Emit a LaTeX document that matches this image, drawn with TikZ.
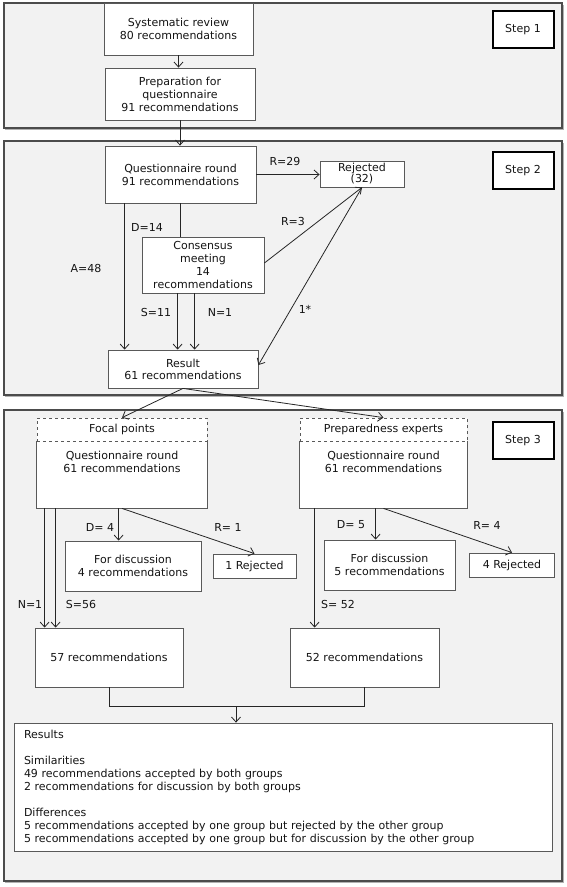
\documentclass[tikz,border=0pt]{standalone}
\usepackage{fontspec}
\setmainfont{DejaVu Sans}
\usetikzlibrary{arrows.meta}
\begin{document}
\begin{tikzpicture}[x=1pt,y=-1pt,
  font=\fontsize{11}{13}\selectfont,
  panel/.style={draw=black!70, line width=1.3pt, fill=black!5},
  shadow/.style={fill=black!30},
  box/.style={draw=black!65, line width=0.8pt, fill=white, align=center, inner sep=0pt, text=black!92},
  boxline/.style={draw=black!65, line width=0.8pt},
  stepbox/.style={draw=black, line width=2pt, fill=white, minimum width=61, minimum height=37, inner sep=0pt, text=black!92},
  conn/.style={draw=black!85, line width=0.8pt},
  arr/.style={conn, -{Straight Barb[length=5pt,width=9pt]}},
  lbl/.style={inner sep=0pt, text=black!92},
]
\useasboundingbox (0,0) rectangle (567,887);
% panels
\path[shadow] (5,4.5) rectangle (563.5,129.5);
\path[panel] (4,3) rectangle (562,128);
\path[shadow] (5,142.5) rectangle (563.5,396.5);
\path[panel] (4,141) rectangle (562,395);
\path[shadow] (5,411.5) rectangle (563.5,882.5);
\path[panel] (4,410) rectangle (562,881);

% step 1
\node[box, minimum width=149, minimum height=52] (sys) at (178.5,29) {Systematic review\\80 recommendations};
\node[box, minimum width=150, minimum height=52] (prep) at (180,94) {Preparation for\\questionnaire\\91 recommendations};
\node[stepbox] (s1) at (523,29.5) {Step 1};
\draw[arr] (sys.south) -- (sys.south |- prep.north);

% step 2
\node[stepbox] (s2) at (523,170.5) {Step 2};
\node[box, minimum width=151, minimum height=57] (q2) at (180.5,174.5) {Questionnaire round\\91 recommendations};
\draw[arr] (prep.south) -- (prep.south |- q2.north);
\node[box, minimum width=84, minimum height=26, font=\fontsize{11}{11}\selectfont] (rej) at (362,174) {Rejected\\(32)};
\draw[arr] (q2.east) -- (q2.east -| rej.west);
\node[box, minimum width=122, minimum height=56] (cons) at (203,265) {Consensus\\meeting\\14\\recommendations};
\draw[conn] (q2.south) -- (q2.south |- cons.north);
\node[box, minimum width=150, minimum height=38, font=\fontsize{11}{12}\selectfont] (res) at (183,369) {Result\\61 recommendations};
\draw[arr] ([xshift=20pt]q2.south west) -- ([xshift=20pt]q2.south west |- res.north);
\draw[arr] ([xshift=36pt]cons.south west) -- ([xshift=36pt]cons.south west |- res.north);
\draw[arr] ([xshift=53pt]cons.south west) -- ([xshift=53pt]cons.south west |- res.north);
\draw[arr] ([yshift=2pt]cons.east) -- (rej.south);
\draw[arr] (rej.south) -- ([yshift=4pt]res.east);
\node[lbl] (l29) at (285,161) {R=29};
\node[lbl] (ld14) at (147,227) {D=14};
\node[lbl] (lr3) at (293,221) {R=3};
\node[lbl] (la48) at (86,268) {A=48};
\node[lbl] (ls11) at (156,312) {S=11};
\node[lbl] (ln1) at (220,312) {N=1};
\node[lbl] (l1s) at (305,309) {1*};

% step 3
\node[stepbox] (s3) at (523,440.5) {Step 3};
% focal points
\node[box, draw=none, minimum width=170, minimum height=67] (fq) at (122,474.5) {};
\draw[boxline] (fq.north west) |- (fq.south east) -- (fq.north east);
\node[box, dashed, minimum width=170, minimum height=23] (fh) at (122,429.5) {Focal points};
\node[lbl, align=center, anchor=north] (fqt) at ([yshift=-10pt]fq.north) {Questionnaire round\\61 recommendations};
% preparedness experts
\node[box, draw=none, minimum width=167, minimum height=67] (pq) at (383.5,474.5) {};
\draw[boxline] (pq.north west) |- (pq.south east) -- (pq.north east);
\node[box, dashed, minimum width=167, minimum height=23] (ph) at (383.5,429.5) {Preparedness experts};
\node[lbl, align=center, anchor=north] (pqt) at ([yshift=-10pt]pq.north) {Questionnaire round\\61 recommendations};

\draw[arr] (res.south) -- (fh.north);
\draw[arr] (res.south) -- (ph.north);

\node[box, minimum width=136, minimum height=50] (fd) at (133,566) {For discussion\\4 recommendations};
\node[box, minimum width=83, minimum height=24] (rej1) at (254.5,566) {1 Rejected};
\node[box, minimum width=148, minimum height=59] (f57) at (109,657.5) {57 recommendations};
\node[box, minimum width=131, minimum height=50] (pd) at (389.5,565) {For discussion\\5 recommendations};
\node[box, minimum width=85, minimum height=24] (rej4) at (512,565) {4 Rejected};
\node[box, minimum width=149, minimum height=59] (p52) at (364.5,657.5) {52 recommendations};

\draw[arr] ([xshift=8pt]fq.south west) -- ([xshift=8pt]fq.south west |- f57.north);
\draw[arr] ([xshift=19pt]fq.south west) -- ([xshift=19pt]fq.south west |- f57.north);
\draw[arr] ([xshift=82pt]fq.south west) -- ([xshift=82pt]fq.south west |- fd.north);
\draw[arr] (fq.south) -- (rej1.north);
\draw[arr] ([xshift=15pt]pq.south west) -- ([xshift=15pt]pq.south west |- p52.north);
\draw[arr] ([xshift=76pt]pq.south west) -- ([xshift=76pt]pq.south west |- pd.north);
\draw[arr] (pq.south) -- (rej4.north);

\node[lbl] (ln1b) at (30,604) {N=1};
\node[lbl] (ls56) at (81,604) {S=56};
\node[lbl] (ld4) at (100,527) {D= 4};
\node[lbl] (lr1) at (228,527) {R= 1};
\node[lbl] (ls52) at (338,604) {S= 52};
\node[lbl] (ld5) at (351,525) {D= 5};
\node[lbl] (lr4) at (487,525) {R= 4};

\node[box, align=left, minimum width=538, minimum height=128, text width=518] (res3) at (283,787) {Results\\[13pt]
Similarities\\
49 recommendations accepted by both groups\\
2 recommendations for discussion by both groups\\[13pt]
Differences\\
5 recommendations accepted by one group but rejected by the other group\\
5 recommendations accepted by one group but for discussion by the other group};

\draw[conn] (f57.south) -- ++(0,19) coordinate (jl) -| (p52.south);
\coordinate (jn) at (236,706);
\draw[arr] (jn) -- (jn |- res3.north);
\end{tikzpicture}
\end{document}
